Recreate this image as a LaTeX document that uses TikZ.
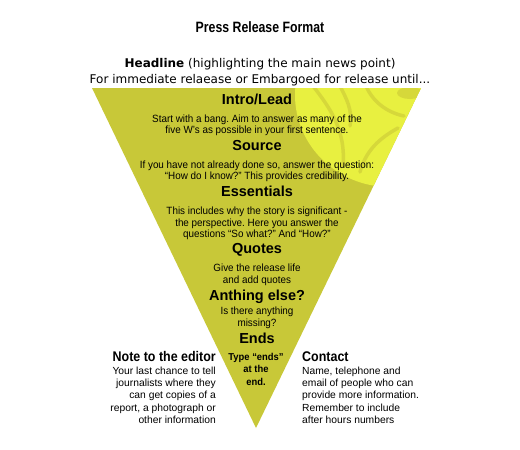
\documentclass[tikz,border=0pt]{standalone}
\usepackage{fontspec}
\setmainfont{Liberation Sans}
\newfontfamily\titlef[FakeStretch=0.82]{Liberation Sans}
\newfontfamily\headf{DejaVu Sans}
\newfontfamily\triheadf{Liberation Sans}
\newfontfamily\tribodyf[FakeStretch=0.94]{Liberation Sans}
\newfontfamily\sideheadf[FakeStretch=0.89]{Liberation Sans}
\newfontfamily\sidebodyf{Liberation Sans}
\definecolor{olive1}{RGB}{200,200,56}
\definecolor{bright1}{RGB}{232,240,64}
\definecolor{swirl1}{RGB}{214,216,58}
\frenchspacing
\tikzset{
  titlestyle/.style={inner sep=0pt, anchor=base, font=\titlef\bfseries\fontsize{15}{18}\selectfont},
  headstyle/.style={inner sep=0pt, anchor=base, font=\headf\fontsize{12}{14}\selectfont},
  trihead/.style={inner sep=0pt, anchor=base, font=\triheadf\bfseries\fontsize{14.5}{16}\selectfont},
  tribody/.style={inner sep=0pt, anchor=north, align=center, font=\tribodyf\fontsize{10.5}{11.5}\selectfont},
  triendbody/.style={inner sep=0pt, anchor=north, align=center, font=\tribodyf\bfseries\fontsize{10}{12.5}\selectfont},
  sidehead/.style={inner sep=0pt, anchor=base, font=\sideheadf\bfseries\fontsize{14}{16}\selectfont},
  sidebody/.style={inner sep=0pt, font=\sidebodyf\fontsize{10.3}{12.25}\selectfont},
  swirlline/.style={draw=swirl1, line width=3.5pt, line cap=round}
}
\begin{document}
\begin{tikzpicture}[x=1pt,y=-1pt]
\useasboundingbox (0,0) rectangle (520,450);
\fill[white] (0,0) rectangle (520,450);

% inverted triangle
\coordinate (tl) at (92,88);
\coordinate (tr) at (421,88);
\coordinate (ap) at (256,428);
\fill[olive1] (tl) -- (tr) -- (ap) -- cycle;
\begin{scope}
  \clip (tl) -- (tr) -- (ap) -- cycle;
  \fill[bright1] (390,95) ellipse [x radius=95, y radius=92];
  \draw[swirlline] (313,86) .. controls (330,108) and (346,130) .. (343,166);
  \draw[swirlline] (340,86) .. controls (346,98) and (353,110) .. (350,126);
  \draw[swirlline] (398,128) .. controls (380,138) and (366,150) .. (360,172);
  \draw[swirlline] (366,86) .. controls (372,100) and (385,112) .. (404,116);
  \fill[swirl1] (410,93) ellipse [x radius=13, y radius=6];
\end{scope}

% title and headline
\node[titlestyle] (title) at (260,32) {Press Release Format};
\node[headstyle] (headline) at (260,67) {\textbf{Headline} (highlighting the main news point)};
\node[headstyle] (embargo) at (260,83.5) {For immediate relaease or Embargoed for release until...};

% triangle contents
\node[trihead] (intro) at (257,104) {Intro/Lead};
\node[tribody] (introtxt) at (257,114.5) {Start with a bang. Aim to answer as many of the\\five W’s as possible in your first sentence.};
\node[trihead] (source) at (257,150) {Source};
\node[tribody] (sourcetxt) at (257,160.5) {If you have not already done so, answer the question:\\“How do I know?” This provides credibility.};
\node[trihead] (essentials) at (257,196.5) {Essentials};
\node[tribody] (esstxt) at (257,207) {This includes why the story is significant -\\the perspective. Here you answer the\\questions “So what?” And “How?”};
\node[trihead] (quotes) at (257,253) {Quotes};
\node[tribody] (quotestxt) at (257,264) {Give the release life\\and add quotes};
\node[trihead] (anything) at (257,300) {Anthing else?};
\node[tribody] (anythingtxt) at (257,307) {Is there anything\\missing?};
\node[trihead] (ends) at (257,343) {Ends};
\node[triendbody] (endstxt) at (256,352.8) {Type “ends”\\at the\\end.};

% side notes
\node[sidehead, anchor=base east] (note) at (216,361) {Note to the editor};
\node[sidebody, anchor=north east, align=right] (notetxt) at (216,366.6) {Your last chance to tell\\journalists where they\\can get copies of a\\report, a photograph or\\other information};
\node[sidehead, anchor=base west] (contact) at (302,361) {Contact};
\node[sidebody, anchor=north west, align=left] (contacttxt) at (302,366.6) {Name, telephone and\\email of people who can\\provide more information.\\Remember to include\\after hours numbers};
\end{tikzpicture}
\end{document}
